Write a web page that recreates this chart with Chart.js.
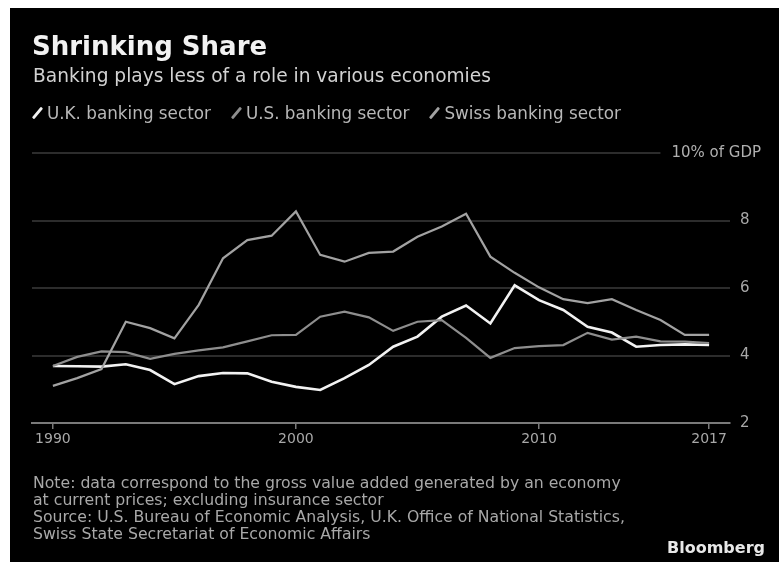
<!DOCTYPE html>
<html>
<head>
<meta charset="utf-8">
<script src="https://cdn.jsdelivr.net/npm/chart.js@4.4.1/dist/chart.umd.min.js"></script>
<style>
  html, body { margin: 0; padding: 0; background: #fff; }
  #page { position: relative; width: 779px; height: 562px; overflow: hidden; }
  #panel { position: absolute; left: 10px; top: 8px; right: 0; bottom: 0; background: #000; }
  #chartBox { position: absolute; left: 0; top: 0; width: 779px; height: 562px; }
  .txt { position: absolute; font-family: "DejaVu Sans", sans-serif; white-space: nowrap; }
  #title { left: 32px; top: 31px; font-size: 26px; font-weight: bold; color: #f2f2f2; }
  #subtitle { left: 33px; top: 65px; font-size: 18.6px; color: #d2d2d2; }
  #legend { left: 36px; top: 103px; font-size: 16.8px; color: #b8b8b8; display: flex; }
  .item { display: flex; align-items: center; margin-right: 24px; }
  .mark { display: inline-block; width: 3px; height: 14px; transform: rotate(40deg); margin-right: 8px; border-radius: 1px; }
  #notes { left: 33px; top: 474px; font-size: 15.7px; line-height: 17px; color: #a8a8a8; }
  #brand { left: 667px; top: 538px; font-size: 16px; font-weight: bold; color: #e8e8e8; }
</style>
</head>
<body>
<div id="page">
  <div id="panel"></div>
  <div id="chartBox"><canvas id="chart"></canvas></div>
  <div class="txt" id="title">Shrinking Share</div>
  <div class="txt" id="subtitle">Banking plays less of a role in various economies</div>
  <div class="txt" id="legend"></div>
  <div class="txt" id="notes">Note: data correspond to the gross value added generated by an economy<br>at current prices; excluding insurance sector<br>Source: U.S. Bureau of Economic Analysis, U.K. Office of National Statistics,<br>Swiss State Secretariat of Economic Affairs</div>
  <div class="txt" id="brand">Bloomberg</div>
</div>
<script>
  const years = [1990, 1991, 1992, 1993, 1994, 1995, 1996, 1997, 1998, 1999,
    2000, 2001, 2002, 2003, 2004, 2005, 2006, 2007, 2008, 2009,
    2010, 2011, 2012, 2013, 2014, 2015, 2016, 2017];
  const ukShare = [3.69, 3.68, 3.67, 3.74, 3.57, 3.15, 3.39, 3.48, 3.47, 3.22,
    3.07, 2.98, 3.33, 3.72, 4.26, 4.56, 5.15, 5.48, 4.95, 6.08,
    5.64, 5.35, 4.85, 4.68, 4.26, 4.31, 4.33, 4.31];
  const usShare = [3.69, 3.96, 4.12, 4.1, 3.9, 4.05, 4.15, 4.24, 4.42, 4.6,
    4.61, 5.15, 5.3, 5.13, 4.73, 5.0, 5.05, 4.52, 3.93, 4.22,
    4.28, 4.31, 4.67, 4.47, 4.56, 4.42, 4.41, 4.37];
  const swissShare = [3.1, 3.33, 3.6, 5.0, 4.81, 4.51, 5.5, 6.88, 7.42, 7.55,
    8.27, 6.98, 6.78, 7.04, 7.08, 7.52, 7.82, 8.2, 6.93, 6.45,
    6.02, 5.67, 5.55, 5.67, 5.35, 5.05, 4.61, 4.61];
  const xTicks = [1990, 2000, 2010, 2017];
  const yTicks = [2, 4, 6, 8, 10];

  const series = [
    { label: "U.K. banking sector", data: ukShare, color: "#f2f2f2", width: 2.6 },
    { label: "U.S. banking sector", data: usShare, color: "#8e8e8e", width: 2.2 },
    { label: "Swiss banking sector", data: swissShare, color: "#a2a2a2", width: 2.2 },
  ];

  // legend in html
  const legendDiv = document.getElementById("legend");
  legendDiv.innerHTML = series.map((s) =>
    `<span class="item"><span class="mark" style="background:${s.color}"></span>${s.label}</span>`
  ).join("");

  // top label "10% of GDP" sits on the top grid line
  const topLabel = {
    id: "topLabel",
    afterDraw(chart) {
      const ctx = chart.ctx;
      const y = chart.scales.y.getPixelForValue(10);
      ctx.save();
      ctx.font = "15px 'DejaVu Sans'";
      ctx.textAlign = "right";
      ctx.textBaseline = "middle";
      const text = "10% of GDP";
      const w = ctx.measureText(text).width;
      ctx.fillStyle = "#000";
      ctx.fillRect(760 - w - 10, y - 10, w + 30, 20);
      ctx.fillStyle = "#b0b0b0";
      ctx.fillText(text, 761, y);
      ctx.restore();
    },
  };

  new Chart(document.getElementById("chart"), {
    type: "line",
    data: {
      datasets: series.slice().reverse().map((s) => ({
        label: s.label,
        data: years.map((yr, i) => ({ x: yr, y: s.data[i] })),
        borderColor: s.color,
        borderWidth: s.width,
        pointRadius: 0,
        tension: 0,
        fill: false,
      })),
    },
    options: {
      responsive: true,
      maintainAspectRatio: false,
      animation: false,
      layout: { padding: { left: 32, top: 153, right: 0, bottom: 109 } },
      plugins: { legend: { display: false }, tooltip: { enabled: false } },
      scales: {
        x: {
          type: "linear",
          min: 1989.14,
          max: 2017.86,
          afterBuildTicks: (scale) => { scale.ticks = xTicks.map((v) => ({ value: v })); },
          afterFit: (scale) => { scale.height = 30; },
          grid: { drawOnChartArea: false, drawTicks: true, tickLength: 6, color: "#7a7a7a", lineWidth: 1.5 },
          border: { display: true, color: "#7a7a7a", width: 2 },
          ticks: {
            color: "#a8a8a8",
            font: { family: "DejaVu Sans", size: 14 },
            padding: 2,
            maxRotation: 0,
            callback: (v) => String(v),
          },
        },
        y: {
          position: "right",
          min: 2,
          max: 10,
          afterBuildTicks: (scale) => { scale.ticks = yTicks.map((v) => ({ value: v })); },
          afterFit: (scale) => { scale.width = 49; },
          grid: { color: "#2c2c2c", lineWidth: 2, drawTicks: false },
          border: { display: false },
          ticks: {
            color: "#a8a8a8",
            font: { family: "DejaVu Sans", size: 15 },
            padding: 10,
            callback: (v) => (v === 10 ? "" : String(v)),
          },
        },
      },
    },
    plugins: [topLabel],
  });
</script>
</body>
</html>
